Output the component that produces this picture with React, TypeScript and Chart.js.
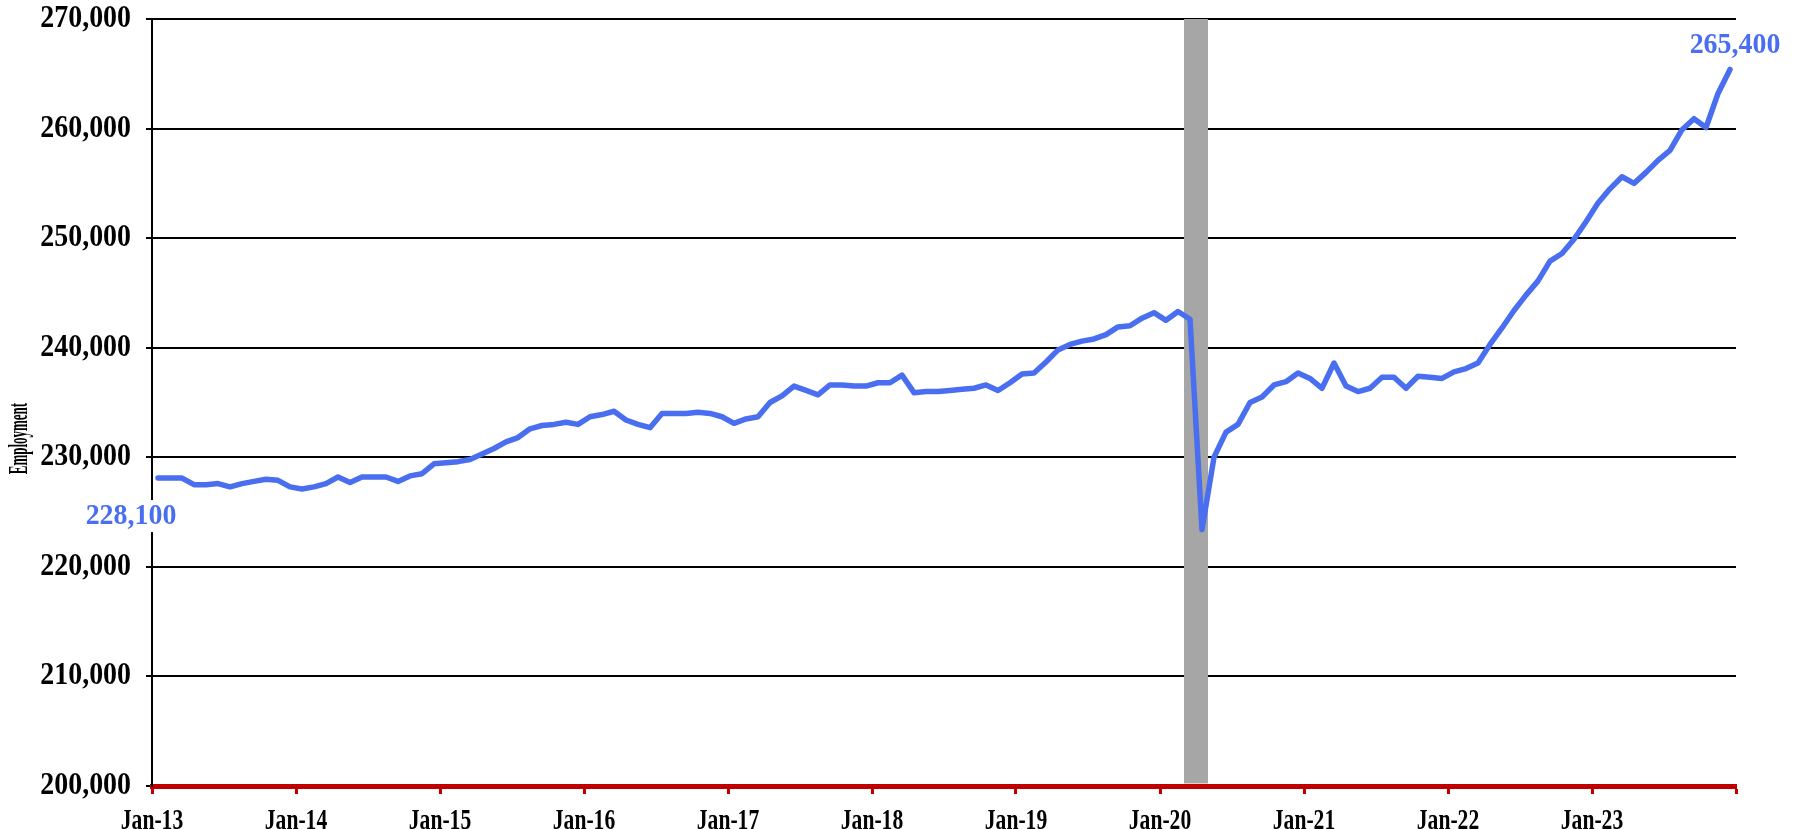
import React, { useEffect, useRef } from "react";
import { Chart, registerables } from "chart.js";

Chart.register(...registerables);

// Monthly employment, Jan-2013 .. Dec-2023
const values2013 = [228100, 228100, 228100, 227500, 227500, 227600, 227300, 227600, 227800, 228000, 227900, 227300];
const values2014 = [227100, 227300, 227600, 228200, 227700, 228200, 228200, 228200, 227800, 228300, 228500, 229400];
const values2015 = [229500, 229600, 229800, 230300, 230800, 231400, 231800, 232600, 232900, 233000, 233200, 233000];
const values2016 = [233700, 233900, 234200, 233400, 233000, 232700, 234000, 234000, 234000, 234100, 234000, 233700];
const values2017 = [233100, 233500, 233700, 235000, 235600, 236500, 236100, 235700, 236600, 236600, 236500, 236500];
const values2018 = [236800, 236800, 237500, 235900, 236000, 236000, 236100, 236200, 236300, 236600, 236100, 236800];
const values2019 = [237600, 237700, 238700, 239800, 240300, 240600, 240800, 241200, 241900, 242000, 242700, 243200];
const values2020 = [242500, 243300, 242600, 223400, 230000, 232300, 233000, 235000, 235500, 236600, 236900, 237700];
const values2021 = [237200, 236300, 238600, 236500, 236000, 236300, 237300, 237300, 236300, 237400, 237300, 237200];
const values2022 = [237800, 238100, 238600, 240300, 241800, 243400, 244800, 246100, 247900, 248600, 249900, 251500];
const values2023 = [253200, 254500, 255600, 255000, 256000, 257100, 258000, 259900, 260900, 260100, 263200, 265400];

const employment = [
  ...values2013, ...values2014, ...values2015, ...values2016, ...values2017, ...values2018,
  ...values2019, ...values2020, ...values2021, ...values2022, ...values2023,
];

const tickLabels = ["Jan-13", "Jan-14", "Jan-15", "Jan-16", "Jan-17", "Jan-18", "Jan-19", "Jan-20", "Jan-21", "Jan-22", "Jan-23", ""];
const yTitle = "Employment";

// Recession shading: month boundaries (Mar-20 .. Apr-20)
const recessionStart = [86];
const recessionEnd = [88];

const BLUE = "#4a6ef0";
const FONT = "'Liberation Serif', 'Times New Roman', serif";

function drawText(
  ctx: CanvasRenderingContext2D,
  text: string,
  x: number,
  y: number,
  size: number,
  sx: number,
  align: CanvasTextAlign,
  color: string,
  rotate = 0
) {
  ctx.save();
  ctx.translate(x, y);
  if (rotate) ctx.rotate(rotate);
  ctx.scale(sx, 1);
  ctx.font = `bold ${size}px ${FONT}`;
  ctx.textAlign = align;
  ctx.textBaseline = "middle";
  ctx.fillStyle = color;
  ctx.fillText(text, 0, 0);
  ctx.restore();
}

const recessionPlugin = {
  id: "recession",
  beforeDatasetsDraw(chart: any) {
    const { ctx, chartArea, scales } = chart;
    const xs = scales.x;
    ctx.save();
    ctx.fillStyle = "#a6a6a6";
    for (let k = 0; k < recessionStart.length; k++) {
      const x1 = xs.getPixelForValue(recessionStart[k]);
      const x2 = xs.getPixelForValue(recessionEnd[k]);
      ctx.fillRect(x1, chartArea.top, x2 - x1, chartArea.bottom - chartArea.top - 2.5);
    }
    ctx.restore();
  },
};

const axisTextPlugin = {
  id: "axisText",
  afterDraw(chart: any) {
    const { ctx, chartArea, scales } = chart;
    const ys = scales.y;
    const xs = scales.x;
    for (const t of ys.ticks) {
      const py = ys.getPixelForValue(t.value);
      drawText(ctx, Number(t.value).toLocaleString("en-US"), chartArea.left - 21, py, 31, 0.9, "right", "#000");
    }
    for (const t of xs.ticks) {
      const lbl = tickLabels[Math.round(Number(t.value) / 12)] ?? "";
      if (!lbl) continue;
      const px = xs.getPixelForValue(t.value);
      drawText(ctx, lbl, px, chartArea.bottom + 35, 30, 0.72, "center", "#000");
    }
    const midY = (chartArea.top + chartArea.bottom) / 2 + 36;
    drawText(ctx, yTitle, 20, midY, 27, 0.48, "center", "#000", -Math.PI / 2);
  },
};

const endLabelsPlugin = {
  id: "endLabels",
  afterDatasetsDraw(chart: any) {
    const { ctx } = chart;
    const meta = chart.getDatasetMeta(0);
    const n = employment.length;
    const first = meta.data[0];
    const last = meta.data[n - 1];
    const size = 30;
    const sx = 0.93;
    const t1 = employment[0].toLocaleString("en-US");
    ctx.save();
    ctx.font = `bold ${size}px ${FONT}`;
    const w1 = ctx.measureText(t1).width * sx;
    ctx.restore();
    const x1 = first.x - 27;
    const y1 = first.y + 38;
    ctx.save();
    ctx.fillStyle = "#ffffff";
    ctx.fillRect(x1 - w1 / 2 - 2, y1 - 16, w1 + 4, 32);
    ctx.restore();
    drawText(ctx, t1, x1, y1, size, sx, "center", BLUE);
    const t2 = employment[n - 1].toLocaleString("en-US");
    drawText(ctx, t2, last.x + 5, last.y - 24, size, sx, "center", BLUE);
  },
};

export default function App() {
  const ref = useRef<HTMLCanvasElement | null>(null);

  useEffect(() => {
    if (!ref.current) return;
    const points = employment.map((v, i) => ({ x: i + 0.5, y: v }));
    const chart = new Chart(ref.current, {
      type: "line",
      data: {
        datasets: [
          {
            label: "Employment",
            data: points,
            borderColor: BLUE,
            borderWidth: 5.5,
            pointRadius: 0,
            tension: 0,
            borderJoinStyle: "round",
            borderCapStyle: "round",
          },
        ],
      },
      options: {
        responsive: false,
        animation: false,
        layout: { padding: { top: 19, right: 57, left: 0, bottom: 0 } },
        plugins: {
          legend: { display: false },
          tooltip: { enabled: false },
        },
        scales: {
          x: {
            type: "linear",
            min: 0,
            max: employment.length,
            afterFit: (s: any) => {
              s.height = 43;
            },
            grid: {
              drawOnChartArea: false,
              drawTicks: true,
              tickLength: 8,
              tickColor: "#c00000",
              tickWidth: 3,
            },
            border: { display: true, color: "#c00000", width: 5 },
            ticks: {
              display: false,
              stepSize: 12,
              autoSkip: false,
              maxRotation: 0,
            },
          },
          y: {
            min: 200000,
            max: 270000,
            afterFit: (s: any) => {
              s.width = 152;
            },
            grid: {
              color: "#000",
              lineWidth: 2,
              drawTicks: true,
              tickLength: 6,
              tickColor: "#000",
            },
            border: { display: true, color: "#000", width: 2 },
            ticks: {
              display: false,
              stepSize: 10000,
            },
          },
        },
      },
      plugins: [recessionPlugin, endLabelsPlugin, axisTextPlugin],
    });
    return () => chart.destroy();
  }, []);

  return (
    <div style={{ position: "fixed", left: 0, top: 0, width: 1793, height: 829, background: "#fff" }}>
      <canvas ref={ref} width={1793} height={829} style={{ display: "block" }} />
    </div>
  );
}
